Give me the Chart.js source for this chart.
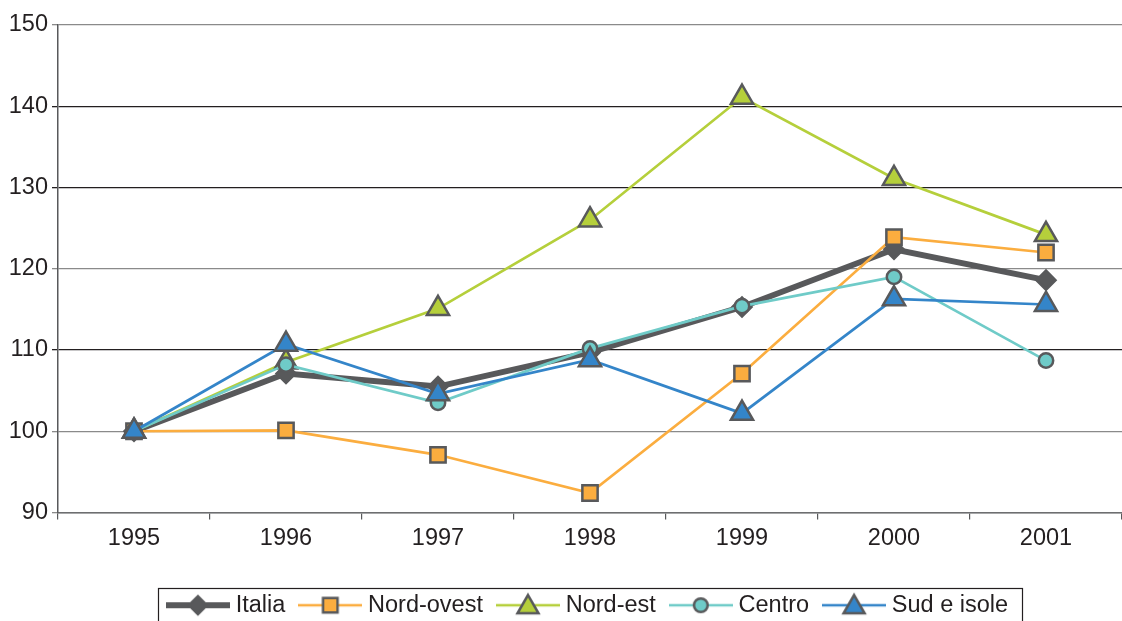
<!DOCTYPE html>
<html><head><meta charset="utf-8">
<script src="https://cdn.jsdelivr.net/npm/chart.js@4/dist/chart.umd.min.js"></script>
<style>html,body{margin:0;padding:0;background:#fff;}#wrap{width:1122px;height:621px;position:relative;}</style>
</head><body><div id="wrap"><canvas id="c" width="1122" height="621"></canvas></div>
<script>
const years = ['1995', '1996', '1997', '1998', '1999', '2000', '2001'];
const italia    = [100, 107.1, 105.5, 109.7, 115.3, 122.4, 118.6];
const nordOvest = [100, 100.1, 97.1, 92.4, 107.1, 123.9, 122.0];
const nordEst   = [100, 108.5, 115.1, 126.0, 141.1, 131.1, 124.2];
const centro    = [100, 108.2, 103.5, 110.2, 115.4, 119.0, 108.7];
const sudIsole  = [100, 110.7, 104.6, 108.8, 102.2, 116.3, 115.6];
const yTicks = [90, 100, 110, 120, 130, 140, 150];

const EDGE = '#58595b';
const TXT = '#231f20';
const FONT = {family: "'Liberation Sans', Arial, sans-serif", size: 23.5};

function shape(g, style, x, y, r) {
  g.beginPath();
  if (style === 'rectRot') { g.moveTo(x - r, y); g.lineTo(x, y - r); g.lineTo(x + r, y); g.lineTo(x, y + r); g.closePath(); }
  else if (style === 'rect') { const s = Math.SQRT1_2 * r; g.rect(x - s, y - s, 2 * s, 2 * s); }
  else if (style === 'triangle') { for (let i = 0; i < 3; i++) { const a = i * 2 * Math.PI / 3; const px = x + Math.sin(a) * r, py = y - Math.cos(a) * r; i ? g.lineTo(px, py) : g.moveTo(px, py); } g.closePath(); }
  else { g.arc(x, y, r, 0, Math.PI * 2); }
  g.fill(); g.stroke();
}
function symbol(color, lw, style, r) {
  const c = document.createElement('canvas'); c.width = 64; c.height = 28;
  const g = c.getContext('2d');
  g.strokeStyle = color; g.lineWidth = lw; g.beginPath(); g.moveTo(0, 14); g.lineTo(64, 14); g.stroke();
  g.fillStyle = color; g.strokeStyle = EDGE; g.lineWidth = 2.5;
  shape(g, style, 32, 14 + (style === 'triangle' ? 2 : 0), r);
  return c;
}

const series = [
  {label: 'Italia', data: italia, color: '#58595b', lw: 6, style: 'rectRot', r: 9.5},
  {label: 'Nord-ovest', data: nordOvest, color: '#fbad3f', lw: 2.7, style: 'rect', r: 10.8},
  {label: 'Nord-est', data: nordEst, color: '#b5cf3b', lw: 2.7, style: 'triangle', r: 12.8},
  {label: 'Centro', data: centro, color: '#6fcbc8', lw: 2.7, style: 'circle', r: 7.2},
  {label: 'Sud e isole', data: sudIsole, color: '#3485c9', lw: 2.7, style: 'triangle', r: 12.8}
];

const gridColor = v => ({150: '#8a8a8a', 140: '#231f20', 130: '#231f20', 120: '#8a8a8a', 110: '#231f20', 100: '#8a8a8a', 90: '#8a8a8a'})[v] || '#888';

const legendBorder = {
  id: 'legendBorder',
  afterDraw(chart) {
    const lg = chart.legend; if (!lg || !lg.legendHitBoxes.length) return;
    const hb = lg.legendHitBoxes;
    let l = Infinity, r = -Infinity, t = Infinity;
    hb.forEach(b => { l = Math.min(l, b.left); r = Math.max(r, b.left + b.width); t = Math.min(t, b.top); });
    const ctx = chart.ctx; ctx.save();
    ctx.strokeStyle = '#231f20'; ctx.lineWidth = 1.2;
    ctx.strokeRect(Math.round(l - 14) + 0.5, Math.round(t - 6) + 0.5, Math.round(r - l + 28), 60);
    ctx.restore();
  }
};

new Chart(document.getElementById('c'), {
  type: 'line',
  data: {
    labels: years,
    datasets: series.map((s, i) => ({
      label: s.label, data: s.data,
      borderColor: s.color, backgroundColor: s.color, borderWidth: s.lw,
      pointStyle: s.style, pointRadius: s.r, pointHoverRadius: s.r,
      pointBackgroundColor: s.color, pointBorderColor: EDGE, pointBorderWidth: 2.5,
      tension: 0, order: series.length - i, clip: false
    }))
  },
  options: {
    responsive: false, animation: false, events: [],
    layout: {autoPadding: false, padding: {top: 25, right: 0, bottom: -6, left: 0}},
    scales: {
      x: {
        offset: true,
        grid: {offset: true, drawOnChartArea: false, drawTicks: true, tickLength: 7, color: EDGE, lineWidth: 1.2},
        border: {color: '#6d6e70', width: 1.5},
        ticks: {font: FONT, color: TXT, padding: 5, maxRotation: 0, autoSkip: false},
        afterFit: s => { s.height = 62; s.paddingLeft = 0; s.paddingRight = 0; }
      },
      y: {
        min: 90, max: 150,
        afterBuildTicks: s => { s.ticks = yTicks.map(v => ({value: v})); },
        grid: {color: c => gridColor(c.tick && c.tick.value), lineWidth: 1.3, tickLength: 6},
        border: {color: EDGE, width: 1.5},
        ticks: {font: FONT, color: TXT, padding: 4},
        afterFit: s => { s.width = 58; }
      }
    },
    plugins: {
      tooltip: {enabled: false},
      legend: {
        position: 'bottom', fullSize: false, align: 'center',
        labels: {
          font: FONT, color: TXT, padding: 19, usePointStyle: true, pointStyleWidth: 52,
          generateLabels: chart => chart.data.datasets.map((d, i) => ({
            text: d.label, datasetIndex: i, hidden: false, fontColor: TXT,
            pointStyle: symbol(series[i].color, series[i].lw, series[i].style, series[i].r * 0.95),
            lineWidth: 0, strokeStyle: 'transparent', fillStyle: 'transparent'
          }))
        }
      }
    }
  },
  plugins: [legendBorder]
});
</script></body></html>
